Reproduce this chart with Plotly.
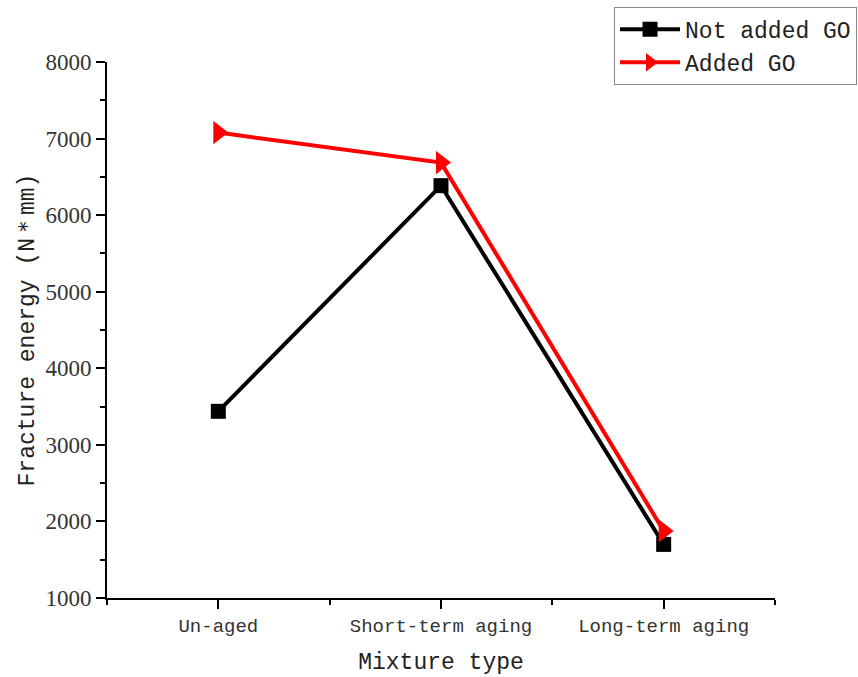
import plotly.graph_objects as go

categories = ["Un-aged", "Short-term aging", "Long-term aging"]
not_added_go = [3438, 6385, 1700]
added_go = [7078, 6686, 1876]
y_ticks = [1000, 2000, 3000, 4000, 5000, 6000, 7000, 8000]

x_pos = list(range(1, len(categories) + 1))

mono = "Liberation Mono"
serif = "Liberation Serif"

fig = go.Figure()
fig.add_trace(go.Scatter(
    x=x_pos, y=not_added_go, name="Not added GO", mode="lines+markers",
    line=dict(color="black", width=4),
    marker=dict(symbol="square", size=15, color="black"),
))
fig.add_trace(go.Scatter(
    x=x_pos, y=added_go, name="Added GO", mode="lines+markers",
    line=dict(color="#ff0000", width=4),
    marker=dict(symbol="triangle-right", size=20, color="#ff0000"),
))

fig.update_layout(
    width=858, height=677,
    margin=dict(l=107, r=83, t=62, b=79, autoexpand=False),
    plot_bgcolor="white", paper_bgcolor="white",
    showlegend=True,
    legend=dict(
        x=1.1228, xanchor="right", y=1.103, yanchor="top",
        bordercolor="#888888", borderwidth=1, bgcolor="white",
        font=dict(family=mono, size=23, color="#222222"),
        tracegroupgap=0, itemwidth=60,
    ),
    xaxis=dict(
        range=[0.5, 3.5], tickmode="array", tickvals=x_pos, ticktext=categories,
        showgrid=False, zeroline=False,
        showline=True, linecolor="black", linewidth=2,
        ticks="outside", ticklen=9, tickwidth=2, tickcolor="black",
        tickfont=dict(family=mono, size=19, color="#333333"),
        minor=dict(tickmode="linear", tick0=0.5, dtick=1, ticks="outside",
                   ticklen=5, tickwidth=2, tickcolor="black", showgrid=False),
        title=dict(text="Mixture type", font=dict(family=mono, size=23, color="#222222"),
                   standoff=16),
        automargin=False,
    ),
    yaxis=dict(
        range=[1000, 8000], tickmode="array", tickvals=y_ticks,
        showgrid=False, zeroline=False,
        showline=True, linecolor="black", linewidth=2,
        ticks="outside", ticklen=9, tickwidth=2, tickcolor="black",
        tickfont=dict(family=serif, size=23, color="#333333"),
        minor=dict(tickmode="linear", tick0=500, dtick=500, ticks="outside",
                   ticklen=5, tickwidth=2, tickcolor="black", showgrid=False),
        title=dict(text="Fracture energy (N＊mm)", font=dict(family=mono, size=23, color="#222222"),
                   standoff=4),
        automargin=False,
    ),
)

fig.write_html("out.html")
